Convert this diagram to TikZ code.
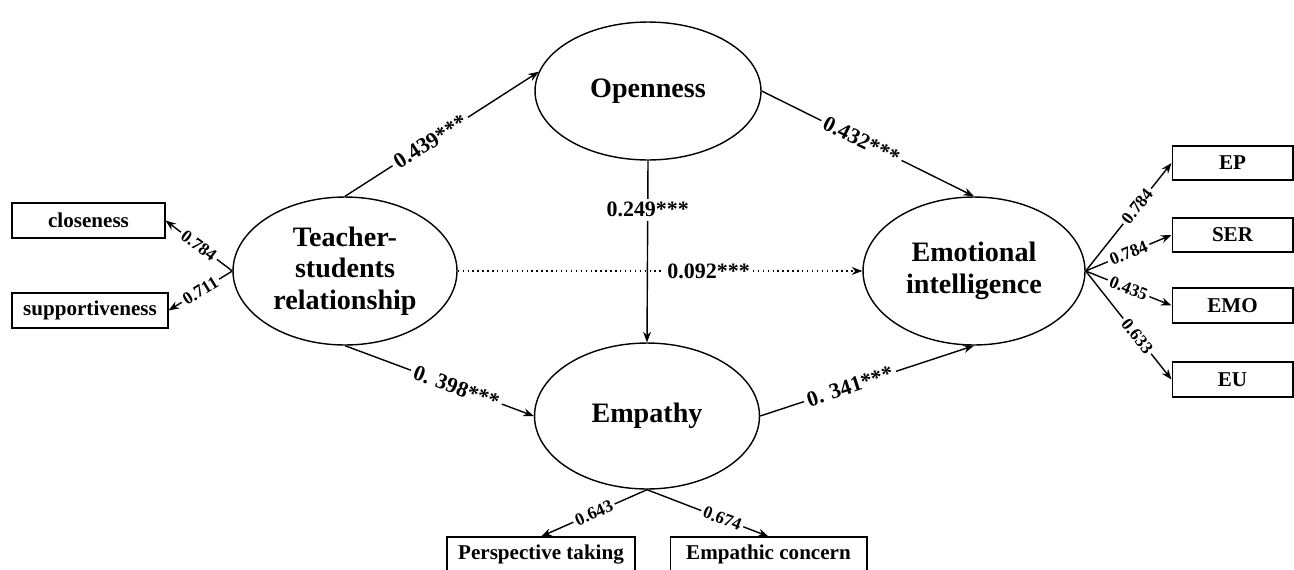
\documentclass[tikz,border=0pt]{standalone}
\usepackage{fontspec}
\setmainfont{Liberation Serif}
\usetikzlibrary{shapes.geometric,arrows.meta}

\begin{document}
\begin{tikzpicture}[x=0.02cm,y=-0.02cm,
    latent/.style={draw,ellipse,line width=0.8pt,inner sep=0pt,align=center,font=\fontsize{16}{18}\selectfont\bfseries},
    indicator/.style={draw,rectangle,line width=0.6pt,inner sep=0pt,font=\fontsize{12}{14}\selectfont\bfseries},
    effect/.style={-{Stealth[length=6pt,width=4.5pt]},line width=0.8pt},
    coef/.style={fill=white,inner sep=2pt,font=\fontsize{12.5}{14}\selectfont\bfseries},
    load/.style={sloped,fill=white,inner sep=1.5pt,font=\fontsize{10}{11}\selectfont\bfseries}]
        \path[use as bounding box,clip] (0,0) rectangle (1294,569);
        % latent variables
        \node[latent,minimum width=4.52cm,minimum height=2.76cm] (open) at (648,91) {Openness};
        \node[latent,minimum width=4.48cm,minimum height=2.96cm] (teach) at (345,271) {Teacher-\\students\\relationship};
        \node[latent,minimum width=4.5cm,minimum height=2.92cm] (emp) at (647,416) {Empathy};
        \node[latent,minimum width=4.44cm,minimum height=2.96cm] (emo) at (974,271) {Emotional\\intelligence};
        % indicators
        \node[indicator,minimum width=3.06cm,minimum height=0.7cm] (clo) at (88.5,220.5) {closeness};
        \node[indicator,minimum width=3.12cm,minimum height=0.7cm] (sup) at (90,310.5) {supportiveness};
        \node[indicator,minimum width=2.42cm,minimum height=0.68cm] (ep) at (1232.5,163) {EP};
        \node[indicator,minimum width=2.42cm,minimum height=0.68cm] (ser) at (1232.5,235) {SER};
        \node[indicator,minimum width=2.42cm,minimum height=0.7cm] (emoi) at (1232.5,305.5) {EMO};
        \node[indicator,minimum width=2.42cm,minimum height=0.7cm] (eu) at (1232.5,379.5) {EU};
        \node[indicator,minimum width=3.76cm,minimum height=0.68cm] (pt) at (541,554) {Perspective taking};
        \node[indicator,minimum width=3.94cm,minimum height=0.68cm] (ec) at (768.5,554) {Empathic concern};
        % structural paths
        \draw[effect] (teach.north) -- node[coef,sloped,pos=0.44] {0.439***} (open.170);
        \draw[effect] (open.east) -- node[coef,sloped,pos=0.47] {0.432***} (emo.north);
        \draw[effect] (open.south) -- node[coef,pos=0.27] {0.249***} (emp.north);
        \draw[effect,dotted,line width=0.6pt] (teach.east) -- node[coef,pos=0.62] {0.092***} (emo.west);
        \draw[effect] (teach.south) -- node[coef,sloped,pos=0.59] {0. 398***} (emp.west);
        \draw[effect] (emp.east) -- node[coef,sloped,pos=0.42] {0. 341***} (emo.south);
        % loadings
        \draw[effect] (teach.west) -- node[load] {0.784} (clo.east);
        \draw[effect] (teach.west) -- node[load] {0.711} (sup.east);
        \draw[effect] (emo.east) -- node[load,pos=0.6] {0.784} (ep.west);
        \draw[effect] (emo.east) -- node[load] {0.784} (ser.west);
        \draw[effect] (emo.east) -- node[load] {0.435} (emoi.west);
        \draw[effect] (emo.east) -- node[load,pos=0.6] {0.633} (eu.west);
        \draw[effect] (emp.south) -- node[load] {0.643} (pt.north);
        \draw[effect] (emp.south) -- node[load,pos=0.62] {0.674} (ec.north);
    \end{tikzpicture}
\end{document}
